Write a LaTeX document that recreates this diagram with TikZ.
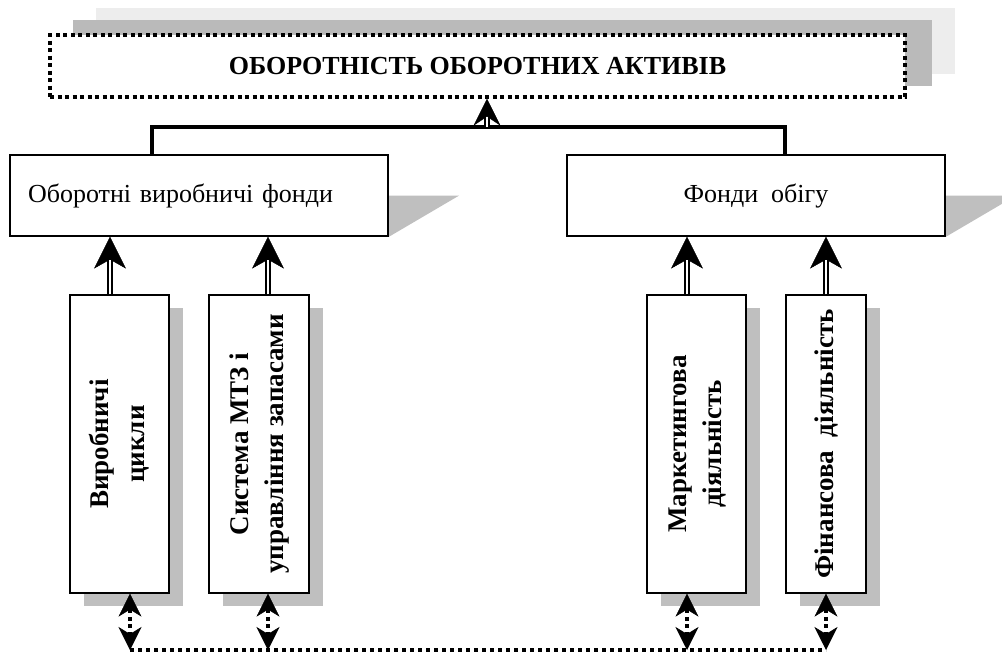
\documentclass[tikz,border=0pt]{standalone}
\usepackage{fontspec}
\usepackage{graphicx}
\setmainfont{Liberation Serif}
\usetikzlibrary{arrows.meta,shadows,backgrounds}

\tikzset{
  titlebox/.style={draw, line width=3.4pt, dash pattern=on 4pt off 3.5pt, fill=white,
    minimum width=855pt, minimum height=62pt, font=\bfseries\fontsize{26}{30}\selectfont},
  lightshade/.style={fill=black!7},
  darkshade/.style={fill=black!27},
  bigbox/.style={draw, line width=1.2pt, fill=white, minimum width=378pt,
    minimum height=81pt, font=\fontsize{26}{30}\selectfont},
  smallbox/.style={draw, line width=1.2pt, fill=white, minimum height=298pt,
    inner sep=0pt, font=\bfseries\fontsize{27}{35}\selectfont,
    drop shadow={fill=black!25, opacity=1, shadow xshift=14pt, shadow yshift=-13pt}},
  shade/.style={fill=black!25},
  bar/.style={line width=3.5pt},
  dblarrow/.style={line width=5.5pt, -{Stealth[length=#1, width=#1, inset=9pt, line width=.5pt]},
    postaction={draw=white, line width=2.5pt, -, shorten >=#1-9pt}},
  dotarrow/.style={line width=3.6pt, dash pattern=on 4pt off 3.5pt,
    {Stealth[length=23pt, width=23pt, inset=7pt, line width=.5pt]}-{Stealth[length=23pt, width=23pt, inset=7pt, line width=.5pt]}},
  dotline/.style={line width=3.6pt, dash pattern=on 4pt off 4pt}
}

\begin{document}
\begin{tikzpicture}[x=1pt, y=-1pt]
    \useasboundingbox (0,0) rectangle (1002,654);

    \node[titlebox] (title) at (477.5,66) {ОБОРОТНІСТЬ ОБОРОТНИХ АКТИВІВ};
    \begin{scope}[on background layer]
        \fill[lightshade] ([shift={(48,-25)}]title.south west) rectangle ([shift={(48,-25)}]title.north east);
        \fill[darkshade] ([shift={(25,-13)}]title.south west) rectangle ([shift={(25,-13)}]title.north east);
    \end{scope}

    \node[bigbox, text width=342pt, align=left, inner xsep=18pt] (ob) at (199,195.5) {Оборотні виробничі фонди};
    \node[bigbox] (fo) at (756,195.5) {Фонди\ \ обігу};
    \fill[shade] ([xshift=.6pt]ob.east) -- ++(70,0) -- ([xshift=.6pt]ob.south east) -- cycle;
    \fill[shade] ([xshift=.6pt]fo.east) -- ++(70,0) -- ([xshift=.6pt]fo.south east) -- cycle;

    \node[smallbox, minimum width=99pt] (b1) at (119.5,444)
        {\rotatebox{90}{\begin{tabular}{@{}c@{}}Виробничі\\цикли\end{tabular}}};
    \node[smallbox, minimum width=100pt] (b2) at (259,444)
        {\rotatebox{90}{\begin{tabular}{@{}c@{}}Система МТЗ і\\управління запасами\end{tabular}}};
    \node[smallbox, minimum width=99pt] (b3) at (696.5,444)
        {\rotatebox{90}{\begin{tabular}{@{}c@{}}Маркетингова\\діяльність\end{tabular}}};
    \node[smallbox, minimum width=80pt] (b4) at (826,444)
        {\rotatebox{90}{Фінансова\ \ діяльність}};

    % top level
    \coordinate (hub) at (487,127);
    \draw[bar] ([xshift=-47pt]ob.north) |- (hub) -| ([xshift=29pt]fo.north);
    \draw[dblarrow=27pt] (hub) -- (hub |- title.south);

    % middle level
    \draw[dblarrow=32pt] ([xshift=-9.5pt]b1.north) -- ([xshift=-9.5pt]b1.north |- ob.south);
    \draw[dblarrow=32pt] ([xshift=9pt]b2.north) -- ([xshift=9pt]b2.north |- ob.south);
    \draw[dblarrow=32pt] ([xshift=-9.5pt]b3.north) -- ([xshift=-9.5pt]b3.north |- fo.south);
    \draw[dblarrow=32pt] (b4.north) -- (b4.north |- fo.south);

    % bottom level
    \coordinate (base) at (0,650);
    \draw[dotarrow] ([xshift=10.5pt]b1.south) -- ([xshift=10.5pt]b1.south |- base);
    \draw[dotarrow] ([xshift=9pt]b2.south) -- ([xshift=9pt]b2.south |- base);
    \draw[dotarrow] ([xshift=-9.5pt]b3.south) -- ([xshift=-9.5pt]b3.south |- base);
    \draw[dotarrow] (b4.south) -- (b4.south |- base);
    \draw[dotline] ([xshift=10.5pt]b1.south |- base) -- (b4.south |- base);
\end{tikzpicture}
\end{document}
